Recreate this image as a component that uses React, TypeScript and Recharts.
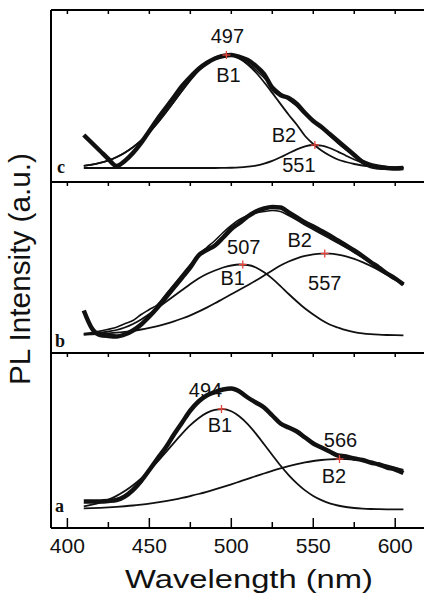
import React from 'react';
import { ComposedChart, Line, XAxis, YAxis, ReferenceLine, ReferenceDot } from 'recharts';

// ---------- data ----------
const wavelengths = [410, 415, 420, 425, 430, 435, 440, 445, 450, 455, 460, 465, 470, 475, 480, 485, 490, 495, 500, 505,
  510, 515, 520, 525, 530, 535, 540, 545, 550, 555, 560, 565, 570, 575, 580, 585, 590, 595, 600, 605];

// panel c (top)
const cData = [33, 25, 17, 9, 2, 7, 15, 25, 37, 49, 60, 71, 82, 91, 99, 105, 109.5, 112, 113, 111,
  108, 102, 94, 80, 73, 70, 64, 55, 47, 41, 34, 27, 20, 13, 6, 2, 0.5, 0, -0.5, 0];
const cFit = [2.2, 3.4, 5.2, 7.6, 10.9, 15.3, 20.8, 27.7, 35.8, 45.1, 55.4, 66.3, 77.3, 87.8, 97.2, 104.8, 110.2, 112.9, 112.8, 109.9,
  104.8, 97.9, 90.2, 82.2, 74.8, 68.1, 61.9, 53.6, 47, 39.9, 32.5, 24.9, 18.3, 12.5, 7.9, 4.6, 2.7, 1.3, 0.7, 0.35];
const cB1 = [2.2, 3.4, 5.2, 7.6, 10.9, 15.3, 20.8, 27.7, 35.8, 45.1, 55.4, 66.3, 77.3, 87.8, 97.2, 104.8, 110.2, 112.8, 112.5, 109.3,
  103.5, 95.5, 85.8, 75.1, 64.1, 53.3, 43.2, 32, 24, 17.5, 12.5, 8.5, 6, 4, 2.5, 1.5, 1, 0.5, 0.3, 0.2];
const cB2 = [0, 0, 0, 0, 0, 0, 0, 0, 0, 0, 0, 0, 0, 0, 0, 0, 0, 0.1, 0.25, 0.6,
  1.3, 2.4, 4.4, 7.1, 10.7, 14.8, 18.7, 21.6, 23, 22.4, 20, 16.4, 12.3, 8.5, 5.4, 3.1, 1.7, 0.8, 0.4, 0.15];

// panel b (middle)
const bData = [25, 7, 0.5, -0.5, -1, 1, 5, 11, 19, 28, 38, 48, 58, 68, 80, 85.5, 90, 98, 106.5, 112.5,
  119, 124, 127, 128.5, 128, 123, 118, 113, 109, 104.5, 100, 95, 90, 85, 79.5, 73.5, 68, 62, 57, 51];
const bFit = [1.9, 2.9, 4.35, 6.2, 8.35, 11.7, 15, 21, 26, 31, 41, 51, 61, 71, 80.9, 88, 95, 103, 110, 116,
  120, 122.5, 124, 125, 124, 120, 115.5, 110.5, 106, 101.5, 97, 92.5, 88, 83, 78, 72.5, 66.2, 61.2, 56.1, 50.9];
const bB1 = [1, 1.7, 2.7, 4, 5.5, 8, 11.5, 16, 21.5, 27.5, 33.5, 39.5, 45.5, 51.5, 57, 61.5, 65, 68, 70, 71,
  70.5, 68, 63.2, 56.9, 49.4, 41.5, 34, 27, 21, 15.5, 11, 8, 5.3, 3.4, 2.1, 1.3, 0.8, 0.5, 0.3, 0.2];
const bB2 = [0.9, 1.2, 1.65, 2.2, 2.85, 3.7, 4.7, 6, 7.6, 9.4, 11.6, 14.1, 17, 20.2, 23.9, 27.9, 32.2, 36.8, 41.2, 45.7,
  50.3, 55, 60, 65, 70, 74, 77.2, 79.6, 81.2, 81.9, 81.8, 80.9, 79.2, 76.7, 73.4, 69.6, 65.4, 60.7, 55.8, 50.7];

// panel a (bottom)
const aData = [8, 8, 8, 8.5, 9.5, 13, 19.5, 28.5, 39.5, 51, 62, 75, 87, 99, 108, 114, 117.5, 120, 121, 118,
  112, 107, 102, 94, 86, 82, 78, 72, 66, 62, 58, 54, 53, 51, 49.5, 47, 45, 42, 40, 36.5];
const aB1 = [3.2, 4.8, 6.9, 9.8, 13.6, 18.4, 24.2, 31.1, 39.1, 47.8, 57.2, 66.7, 75.9, 84.3, 91.3, 96.6, 99.7, 100.4, 98.2, 93,
  85.4, 75.9, 65.3, 54.5, 44, 34.4, 26.1, 19.1, 13.6, 9.4, 6.2, 4, 2.5, 1.5, 0.9, 0.5, 0.3, 0.15, 0.08, 0.04];
const aB2 = [1.04, 1.33, 1.69, 2.12, 2.65, 3.27, 4, 4.9, 5.9, 7.1, 8.4, 9.9, 11.6, 13.5, 15.5, 17.7, 20.1, 22.6, 25.2, 27.9,
  30.6, 33.4, 36, 38.6, 41.1, 43.3, 45.3, 47.1, 48.5, 49.5, 50.2, 50.5, 50.4, 49.9, 48.9, 47.7, 46.1, 44.2, 42, 39.6];

// fitted peak positions (nm, intensity) and their labels
const cPeakNm = [497, 551];
const cPeakVal = [113, 23];
const cPeakNumber = ['497', '551'];
const bPeakNm = [507, 557];
const bPeakVal = [71, 82];
const bPeakNumber = ['507', '557'];
const aPeakNm = [494, 566];
const aPeakVal = [100.5, 50.5];
const aPeakNumber = ['494', '566'];
const peakNames = ['B1', 'B2'];

const xTicks = [400, 425, 450, 475, 500, 525, 550, 575, 600];
const xLabelTicks = [400, 450, 500, 550, 600];
const panelLetters = ['c', 'b', 'a'];

// ---------- styles ----------
const SANS = '"Liberation Sans", Arial, Helvetica, sans-serif';
const SERIF = '"Liberation Serif", "Times New Roman", serif';
const INK = '#111';
const X_DOMAIN: [number, number] = [390, 620];

const toRows = (d: number[], f: number[] | null, b1: number[], b2: number[]) =>
  wavelengths.map((nm, i) => ({ nm, data: d[i], fit: f ? f[i] : null, b1: b1[i], b2: b2[i] }));

function TopTick(props: any) {
  const { x, y } = props;
  return <line x1={x} y1={y} x2={x} y2={y + 4} stroke="#000" strokeWidth={1.5} />;
}

function BottomTick(props: any) {
  const { x, y, payload } = props;
  const major = xLabelTicks.includes(payload.value);
  return (
    <g>
      <line x1={x} y1={y} x2={x} y2={y - (major ? 10 : 6)} stroke="#000" strokeWidth={1.5} />
      {major && (
        <text x={x} y={y + 25} textAnchor="middle" fontSize={21} fontFamily={SANS} fill={INK}>
          {payload.value}
        </text>
      )}
    </g>
  );
}

type Off = { numDx: number; numDy: number; nameDx: number; nameDy: number };

function peakShape(num: string, name: string, off: Off) {
  return (p: any) => {
    const { cx, cy } = p;
    return (
      <g>
        <line x1={cx - 4} y1={cy} x2={cx + 4} y2={cy} stroke="#e8453c" strokeWidth={1.3} />
        <line x1={cx} y1={cy - 4} x2={cx} y2={cy + 4} stroke="#e8453c" strokeWidth={1.3} />
        <text x={cx + off.numDx} y={cy + off.numDy} textAnchor="middle" fontSize={20} fontFamily={SANS} fill={INK}>{num}</text>
        <text x={cx + off.nameDx} y={cy + off.nameDy} textAnchor="middle" fontSize={20} fontFamily={SANS} fill={INK}>{name}</text>
      </g>
    );
  };
}

type PanelProps = {
  rows: any[];
  yDomain: [number, number];
  top: number;
  plotHeight: number;
  bottomAxis: boolean;
  showFit: boolean;
  peakNm: number[];
  peakVal: number[];
  peakNumber: string[];
  offsets: Off[];
};

function Panel(p: PanelProps) {
  const bottomH = p.bottomAxis ? 76 : 1;
  const height = 10 + p.plotHeight + bottomH;
  return (
    <div style={{ position: 'absolute', left: 0, top: p.top }}>
      <ComposedChart width={428} height={height} data={p.rows}
        margin={{ top: 9, right: 0, left: 51, bottom: p.bottomAxis ? 0 : 1 }}>
        <XAxis xAxisId="tx" orientation="top" type="number" dataKey="nm" domain={X_DOMAIN} ticks={xTicks}
          allowDataOverflow height={1} tickSize={0} tickMargin={0} tickLine={false}
          axisLine={{ stroke: '#000', strokeWidth: 2 }} tick={(t: any) => <TopTick {...t} />} />
        <XAxis xAxisId="bx" orientation="bottom" type="number" dataKey="nm" domain={X_DOMAIN} ticks={xTicks}
          allowDataOverflow hide={!p.bottomAxis} height={bottomH} tickSize={0} tickMargin={0} tickLine={false}
          axisLine={{ stroke: '#000', strokeWidth: 2 }} tick={(t: any) => <BottomTick {...t} />} />
        <YAxis type="number" domain={p.yDomain} allowDataOverflow hide />
        <ReferenceLine xAxisId="bx" x={390} stroke="#000" strokeWidth={2} />
        <Line xAxisId="bx" type="monotone" dataKey="data" stroke={INK} strokeWidth={4.5} dot={false} isAnimationActive={false} />
        {p.showFit && (
          <Line xAxisId="bx" type="monotone" dataKey="fit" stroke={INK} strokeWidth={1.6} dot={false} isAnimationActive={false} />
        )}
        <Line xAxisId="bx" type="monotone" dataKey="b1" stroke={INK} strokeWidth={1.8} dot={false} isAnimationActive={false} />
        <Line xAxisId="bx" type="monotone" dataKey="b2" stroke={INK} strokeWidth={1.8} dot={false} isAnimationActive={false} />
        {p.peakNm.map((nm, i) => (
          <ReferenceDot key={i} xAxisId="bx" x={nm} y={p.peakVal[i]} r={4} ifOverflow="visible"
            shape={peakShape(p.peakNumber[i], peakNames[i], p.offsets[i])} />
        ))}
      </ComposedChart>
    </div>
  );
}

const cOffsets: Off[] = [
  { numDx: 1, numDy: -12, nameDx: 2, nameDy: 27 },
  { numDx: -16, numDy: 27, nameDx: -31, nameDy: -3 },
];
const bOffsets: Off[] = [
  { numDx: 1, numDy: -11, nameDx: -10, nameDy: 20.5 },
  { numDx: 0, numDy: 36.5, nameDx: -25, nameDy: -7 },
];
const aOffsets: Off[] = [
  { numDx: -16, numDy: -12, nameDx: -1.5, nameDy: 22.7 },
  { numDx: 1, numDy: -12, nameDx: -5.5, nameDy: 24 },
];

export default function App() {
  return (
    <div style={{ position: 'absolute', left: 0, top: 0, width: 424, height: 604, overflow: 'hidden', background: '#fff' }}>
      <Panel rows={toRows(cData, cFit, cB1, cB2)} yDomain={[-14, 158]} top={0} plotHeight={172}
        bottomAxis={false} showFit peakNm={cPeakNm} peakVal={cPeakVal} peakNumber={cPeakNumber} offsets={cOffsets} />
      <Panel rows={toRows(bData, bFit, bB1, bB2)} yDomain={[-17.5, 153.5]} top={172} plotHeight={171}
        bottomAxis={false} showFit peakNm={bPeakNm} peakVal={bPeakVal} peakNumber={bPeakNumber} offsets={bOffsets} />
      <Panel rows={toRows(aData, null, aB1, aB2)} yDomain={[-18.5, 156.5]} top={343} plotHeight={175}
        bottomAxis showFit={false} peakNm={aPeakNm} peakVal={aPeakVal} peakNumber={aPeakNumber} offsets={aOffsets} />
      <svg width={424} height={604} style={{ position: 'absolute', left: 0, top: 0, pointerEvents: 'none' }}>
        <text transform="translate(30,269) rotate(-90)" textAnchor="middle" fontSize={30} fontFamily={SANS}
          fill={INK} textLength={232} lengthAdjust="spacingAndGlyphs">PL Intensity (a.u.)</text>
        <text x={249} y={588} textAnchor="middle" fontSize={26} fontFamily={SANS} fill={INK}
          textLength={248} lengthAdjust="spacingAndGlyphs">Wavelength (nm)</text>
        <text x={57} y={173} fontSize={18} fontWeight="bold" fontFamily={SERIF} fill={INK}>{panelLetters[0]}</text>
        <text x={55} y={347} fontSize={18} fontWeight="bold" fontFamily={SERIF} fill={INK}>{panelLetters[1]}</text>
        <text x={55} y={512} fontSize={18} fontWeight="bold" fontFamily={SERIF} fill={INK}>{panelLetters[2]}</text>
      </svg>
    </div>
  );
}
